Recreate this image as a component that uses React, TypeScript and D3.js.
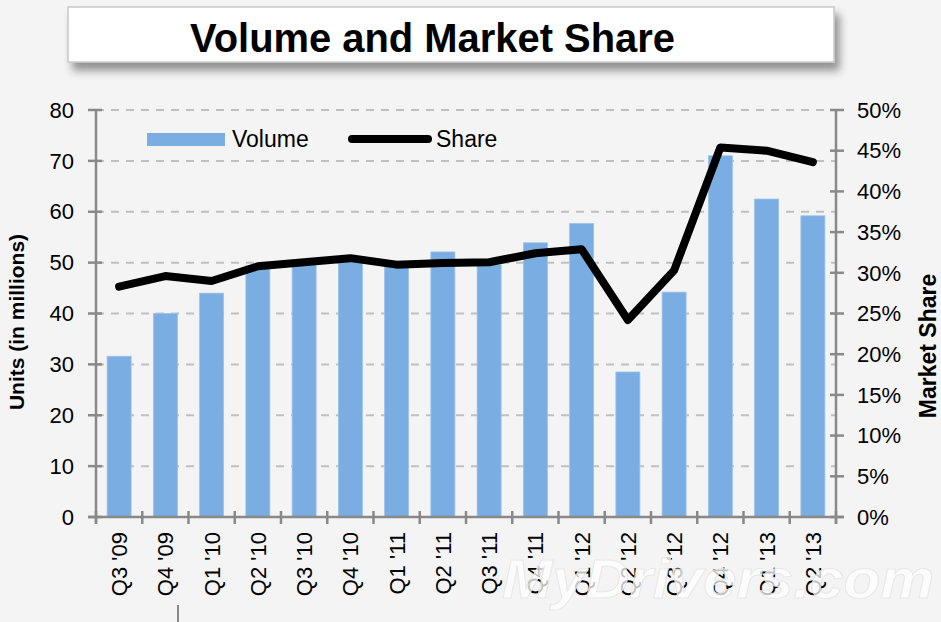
import { useEffect, useRef } from "react";
import * as d3 from "d3";

const quarters = [
  "Q3 '09", "Q4 '09", "Q1 '10", "Q2 '10", "Q3 '10", "Q4 '10", "Q1 '11", "Q2 '11",
  "Q3 '11", "Q4 '11", "Q1 '12", "Q2 '12", "Q3 '12", "Q4 '12", "Q1 '13", "Q2 '13",
];
// units shipped, millions
const volume = [31.6, 40.0, 44.0, 49.4, 50.0, 50.9, 49.2, 52.1, 49.6, 53.9, 57.7, 28.5, 44.2, 71.0, 62.5, 59.2];
// market share, percent
const share = [28.3, 29.6, 29.0, 30.8, 31.3, 31.8, 31.0, 31.2, 31.3, 32.4, 32.9, 24.2, 30.3, 45.4, 45.0, 43.6];

const unitTicks = [0, 10, 20, 30, 40, 50, 60, 70, 80];
const shareTicks = [0, 5, 10, 15, 20, 25, 30, 35, 40, 45, 50];

const W = 941;
const H = 622;
const FONT = "Liberation Sans, Arial, sans-serif";

export default function App() {
  const svgRef = useRef<SVGSVGElement>(null);

  useEffect(() => {
    if (!svgRef.current) return;
    const svg = d3.select(svgRef.current);
    svg.selectAll("*").remove();

    const left = 96;
    const right = 836;
    const top = 110;
    const bottom = 517;

    const x = d3.scaleBand<string>().domain(quarters).range([left, right]);
    const yUnits = d3.scaleLinear().domain([0, 80]).range([bottom, top]);
    const yShare = d3.scaleLinear().domain([0, 50]).range([bottom, top]);
    const axisColor = "#898989";

    svg.append("rect").attr("width", W).attr("height", H).attr("fill", "#f4f4f4");

    // title panel with soft shadow
    const defs = svg.append("defs");
    const f = defs.append("filter").attr("id", "shadow").attr("x", "-5%").attr("y", "-30%").attr("width", "110%").attr("height", "190%");
    f.append("feDropShadow").attr("dx", 5).attr("dy", 8).attr("stdDeviation", 4).attr("flood-color", "#000").attr("flood-opacity", 0.4);

    svg.append("rect")
      .attr("x", 68).attr("y", 7).attr("width", 766).attr("height", 55)
      .attr("fill", "#fff").attr("stroke", "#c8c8c8").attr("stroke-width", 1.5)
      .attr("filter", "url(#shadow)");
    svg.append("text")
      .attr("x", 190).attr("y", 52)
      .attr("font-family", FONT).attr("font-weight", "bold").attr("font-size", 41)
      .attr("textLength", 485).attr("lengthAdjust", "spacingAndGlyphs")
      .attr("fill", "#000")
      .text("Volume and Market Share");

    // gridlines
    svg.append("g")
      .selectAll("line")
      .data(unitTicks.filter((t) => t > 0))
      .join("line")
      .attr("x1", left).attr("x2", right)
      .attr("y1", (d) => yUnits(d)).attr("y2", (d) => yUnits(d))
      .attr("stroke", "#c0c0c0").attr("stroke-width", 2).attr("stroke-dasharray", "8,7");

    // bars
    svg.append("g")
      .selectAll("rect")
      .data(volume)
      .join("rect")
      .attr("x", (_, i) => x(quarters[i])! + x.bandwidth() / 2 - 12)
      .attr("width", 24)
      .attr("y", (d) => yUnits(d))
      .attr("height", (d) => bottom - yUnits(d))
      .attr("fill", "#7aade2")
      .attr("stroke", "#9cc3ea").attr("stroke-width", 0.8);

    // axes
    const axes = svg.append("g").attr("stroke", axisColor).attr("stroke-width", 2.5);
    axes.append("line").attr("x1", left).attr("x2", left).attr("y1", top).attr("y2", bottom + 7);
    axes.append("line").attr("x1", right).attr("x2", right).attr("y1", top).attr("y2", bottom + 7);
    axes.append("line").attr("x1", left - 8).attr("x2", right + 8).attr("y1", bottom).attr("y2", bottom);
    axes.selectAll("line.ly").data(unitTicks).join("line").attr("class", "ly")
      .attr("x1", left - 8).attr("x2", left + 6).attr("y1", (d) => yUnits(d)).attr("y2", (d) => yUnits(d));
    axes.selectAll("line.ry").data(shareTicks).join("line").attr("class", "ry")
      .attr("x1", right - 6).attr("x2", right + 8).attr("y1", (d) => yShare(d)).attr("y2", (d) => yShare(d));
    const bounds = quarters.map((q) => x(q)!).concat([right]);
    axes.selectAll("line.xt").data(bounds).join("line").attr("class", "xt")
      .attr("x1", (d) => d).attr("x2", (d) => d).attr("y1", bottom - 6).attr("y2", bottom + 7);

    // tick labels
    svg.append("g").selectAll("text").data(unitTicks).join("text")
      .attr("x", 74).attr("y", (d) => yUnits(d)).attr("dy", "0.35em")
      .attr("text-anchor", "end").attr("font-family", FONT).attr("font-size", 22)
      .text((d) => d);
    svg.append("g").selectAll("text").data(shareTicks).join("text")
      .attr("x", 857).attr("y", (d) => yShare(d)).attr("dy", "0.35em")
      .attr("font-family", FONT).attr("font-size", 22)
      .text((d) => `${d}%`);
    svg.append("g").selectAll("text").data(quarters).join("text")
      .attr("transform", (d) => `translate(${x(d)! + x.bandwidth() / 2 + 8},532) rotate(-90)`)
      .attr("text-anchor", "end").attr("font-family", FONT).attr("font-size", 22)
      .text((d) => d);

    // axis titles
    svg.append("text")
      .attr("transform", "translate(24,322) rotate(-90)")
      .attr("text-anchor", "middle").attr("font-family", FONT).attr("font-weight", "bold").attr("font-size", 21)
      .text("Units (in millions)");
    svg.append("text")
      .attr("transform", "translate(936,346) rotate(-90)")
      .attr("text-anchor", "middle").attr("font-family", FONT).attr("font-weight", "bold").attr("font-size", 23)
      .text("Market Share");

    // share line
    const line = d3.line<number>()
      .x((_, i) => x(quarters[i])! + x.bandwidth() / 2)
      .y((d) => yShare(d));
    svg.append("path")
      .datum(share)
      .attr("d", line)
      .attr("fill", "none").attr("stroke", "#000").attr("stroke-width", 8)
      .attr("stroke-linejoin", "round").attr("stroke-linecap", "round");

    // legend
    const lg = svg.append("g").attr("font-family", FONT).attr("font-size", 23);
    lg.append("rect").attr("x", 147).attr("y", 133).attr("width", 78).attr("height", 13).attr("fill", "#7aade2");
    lg.append("text").attr("x", 232).attr("y", 139).attr("dy", "0.35em").text("Volume");
    lg.append("line").attr("x1", 352).attr("x2", 428).attr("y1", 139).attr("y2", 139)
      .attr("stroke", "#000").attr("stroke-width", 8).attr("stroke-linecap", "round");
    lg.append("text").attr("x", 436).attr("y", 139).attr("dy", "0.35em").text("Share");

    // stray tick below the labels
    svg.append("line").attr("x1", 178).attr("x2", 178).attr("y1", 605).attr("y2", 622)
      .attr("stroke", axisColor).attr("stroke-width", 2);

    // watermark
    svg.append("text")
      .attr("x", 502).attr("y", 598)
      .attr("font-family", FONT).attr("font-weight", "bold").attr("font-style", "italic").attr("font-size", 56)
      .attr("textLength", 432).attr("lengthAdjust", "spacingAndGlyphs")
      .attr("fill", "#ffffff").attr("fill-opacity", 0.75)
      .attr("stroke", "#e4e4e4").attr("stroke-width", 1).attr("stroke-opacity", 0.8)
      .text("MyDrivers.com");
  }, []);

  return (
    <svg
      ref={svgRef}
      width={W}
      height={H}
      style={{ position: "absolute", left: 0, top: 0, display: "block" }}
    />
  );
}
